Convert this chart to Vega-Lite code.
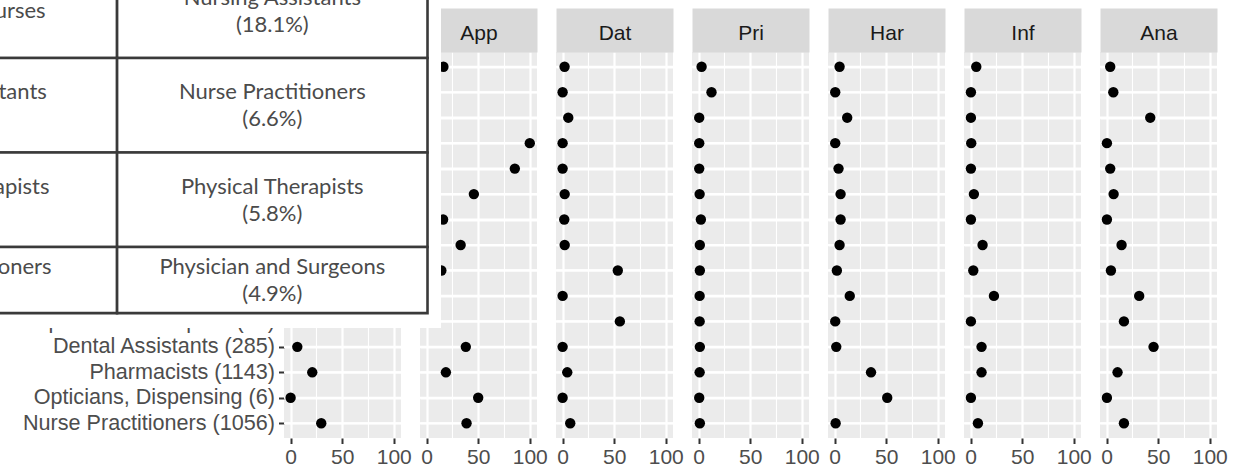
{
  "$schema": "https://vega.github.io/schema/vega-lite/v6.json",
  "background": "white",
  "padding": {"left": -150, "top": -150, "right": 5, "bottom": 2},
  "config": {
    "view": {"fill": "#EBEBEB", "stroke": null},
    "font": "Liberation Sans",
    "axis": {"domain": false, "gridColor": "#FFFFFF", "tickColor": "#333333", "tickWidth": 2, "tickSize": 5.5, "labelFont": "Liberation Sans", "labelFontSize": 21, "labelColor": "#4D4D4D", "labelLimit": 600,
             "titleFont": "Liberation Sans", "titleFontSize": 21, "titleFontWeight": "normal", "titleColor": "#1A1A1A"},
    "axisTop": {"titleBaseline": "alphabetic", "titleY": 9.5, "titlePadding": 0},
    "axisLeft": {"labelFontSize": 21.6}
  },
  "data": {"values": [
    {"kind":"dot","panel":"Adm","occupation":"Registered Nurses (2957)","pct":10},
    {"kind":"dot","panel":"Adm","occupation":"Nursing Assistants (1890)","pct":25},
    {"kind":"dot","panel":"Adm","occupation":"Physical Therapists (842)","pct":5},
    {"kind":"dot","panel":"Adm","occupation":"Physicians (731)","pct":60},
    {"kind":"dot","panel":"Adm","occupation":"Medical Assistants (655)","pct":15},
    {"kind":"dot","panel":"Adm","occupation":"Physician Assistants (410)","pct":8},
    {"kind":"dot","panel":"Adm","occupation":"Dental Hygienists (298)","pct":3},
    {"kind":"dot","panel":"Adm","occupation":"Respiratory Therapists (174)","pct":40},
    {"kind":"dot","panel":"Adm","occupation":"Home Health Aides (520)","pct":12},
    {"kind":"dot","panel":"Adm","occupation":"Massage Therapists (112)","pct":20},
    {"kind":"dot","panel":"Adm","occupation":"Occupational Therapists (15)","pct":2},
    {"kind":"dot","panel":"Adm","occupation":"Dental Assistants (285)","pct":6.5},
    {"kind":"dot","panel":"Adm","occupation":"Pharmacists (1143)","pct":21},
    {"kind":"dot","panel":"Adm","occupation":"Opticians, Dispensing (6)","pct":0},
    {"kind":"dot","panel":"Adm","occupation":"Nurse Practitioners (1056)","pct":29.7},

    {"kind":"dot","panel":"App","occupation":"Registered Nurses (2957)","pct":16.3},
    {"kind":"dot","panel":"App","occupation":"Nursing Assistants (1890)","pct":5},
    {"kind":"dot","panel":"App","occupation":"Physical Therapists (842)","pct":8},
    {"kind":"dot","panel":"App","occupation":"Physicians (731)","pct":100},
    {"kind":"dot","panel":"App","occupation":"Medical Assistants (655)","pct":85.5},
    {"kind":"dot","panel":"App","occupation":"Physician Assistants (410)","pct":45.8},
    {"kind":"dot","panel":"App","occupation":"Dental Hygienists (298)","pct":16},
    {"kind":"dot","panel":"App","occupation":"Respiratory Therapists (174)","pct":33},
    {"kind":"dot","panel":"App","occupation":"Home Health Aides (520)","pct":14.3},
    {"kind":"dot","panel":"App","occupation":"Massage Therapists (112)","pct":3},
    {"kind":"dot","panel":"App","occupation":"Occupational Therapists (15)","pct":6},
    {"kind":"dot","panel":"App","occupation":"Dental Assistants (285)","pct":38},
    {"kind":"dot","panel":"App","occupation":"Pharmacists (1143)","pct":18.7},
    {"kind":"dot","panel":"App","occupation":"Opticians, Dispensing (6)","pct":50},
    {"kind":"dot","panel":"App","occupation":"Nurse Practitioners (1056)","pct":38.7},

    {"kind":"dot","panel":"Dat","occupation":"Registered Nurses (2957)","pct":1.9},
    {"kind":"dot","panel":"Dat","occupation":"Nursing Assistants (1890)","pct":0},
    {"kind":"dot","panel":"Dat","occupation":"Physical Therapists (842)","pct":5.5},
    {"kind":"dot","panel":"Dat","occupation":"Physicians (731)","pct":0},
    {"kind":"dot","panel":"Dat","occupation":"Medical Assistants (655)","pct":0},
    {"kind":"dot","panel":"Dat","occupation":"Physician Assistants (410)","pct":2},
    {"kind":"dot","panel":"Dat","occupation":"Dental Hygienists (298)","pct":1.6},
    {"kind":"dot","panel":"Dat","occupation":"Respiratory Therapists (174)","pct":2},
    {"kind":"dot","panel":"Dat","occupation":"Home Health Aides (520)","pct":53.5},
    {"kind":"dot","panel":"Dat","occupation":"Massage Therapists (112)","pct":0},
    {"kind":"dot","panel":"Dat","occupation":"Occupational Therapists (15)","pct":55.5},
    {"kind":"dot","panel":"Dat","occupation":"Dental Assistants (285)","pct":0},
    {"kind":"dot","panel":"Dat","occupation":"Pharmacists (1143)","pct":4.5},
    {"kind":"dot","panel":"Dat","occupation":"Opticians, Dispensing (6)","pct":0},
    {"kind":"dot","panel":"Dat","occupation":"Nurse Practitioners (1056)","pct":7.4},

    {"kind":"dot","panel":"Pri","occupation":"Registered Nurses (2957)","pct":2.9},
    {"kind":"dot","panel":"Pri","occupation":"Nursing Assistants (1890)","pct":12.5},
    {"kind":"dot","panel":"Pri","occupation":"Physical Therapists (842)","pct":0.6},
    {"kind":"dot","panel":"Pri","occupation":"Physicians (731)","pct":0.6},
    {"kind":"dot","panel":"Pri","occupation":"Medical Assistants (655)","pct":0.6},
    {"kind":"dot","panel":"Pri","occupation":"Physician Assistants (410)","pct":1},
    {"kind":"dot","panel":"Pri","occupation":"Dental Hygienists (298)","pct":2.2},
    {"kind":"dot","panel":"Pri","occupation":"Respiratory Therapists (174)","pct":1.2},
    {"kind":"dot","panel":"Pri","occupation":"Home Health Aides (520)","pct":1.2},
    {"kind":"dot","panel":"Pri","occupation":"Massage Therapists (112)","pct":1},
    {"kind":"dot","panel":"Pri","occupation":"Occupational Therapists (15)","pct":1},
    {"kind":"dot","panel":"Pri","occupation":"Dental Assistants (285)","pct":1.2},
    {"kind":"dot","panel":"Pri","occupation":"Pharmacists (1143)","pct":1},
    {"kind":"dot","panel":"Pri","occupation":"Opticians, Dispensing (6)","pct":0.6},
    {"kind":"dot","panel":"Pri","occupation":"Nurse Practitioners (1056)","pct":1.2},

    {"kind":"dot","panel":"Har","occupation":"Registered Nurses (2957)","pct":4.8},
    {"kind":"dot","panel":"Har","occupation":"Nursing Assistants (1890)","pct":0.6},
    {"kind":"dot","panel":"Har","occupation":"Physical Therapists (842)","pct":12.2},
    {"kind":"dot","panel":"Har","occupation":"Physicians (731)","pct":0.6},
    {"kind":"dot","panel":"Har","occupation":"Medical Assistants (655)","pct":3.8},
    {"kind":"dot","panel":"Har","occupation":"Physician Assistants (410)","pct":5.8},
    {"kind":"dot","panel":"Har","occupation":"Dental Hygienists (298)","pct":5.8},
    {"kind":"dot","panel":"Har","occupation":"Respiratory Therapists (174)","pct":4.8},
    {"kind":"dot","panel":"Har","occupation":"Home Health Aides (520)","pct":2.2},
    {"kind":"dot","panel":"Har","occupation":"Massage Therapists (112)","pct":14.7},
    {"kind":"dot","panel":"Har","occupation":"Occupational Therapists (15)","pct":0.6},
    {"kind":"dot","panel":"Har","occupation":"Dental Assistants (285)","pct":1.6},
    {"kind":"dot","panel":"Har","occupation":"Pharmacists (1143)","pct":35.3},
    {"kind":"dot","panel":"Har","occupation":"Opticians, Dispensing (6)","pct":51},
    {"kind":"dot","panel":"Har","occupation":"Nurse Practitioners (1056)","pct":1},

    {"kind":"dot","panel":"Inf","occupation":"Registered Nurses (2957)","pct":5.5},
    {"kind":"dot","panel":"Inf","occupation":"Nursing Assistants (1890)","pct":0.3},
    {"kind":"dot","panel":"Inf","occupation":"Physical Therapists (842)","pct":0.3},
    {"kind":"dot","panel":"Inf","occupation":"Physicians (731)","pct":0.6},
    {"kind":"dot","panel":"Inf","occupation":"Medical Assistants (655)","pct":0.3},
    {"kind":"dot","panel":"Inf","occupation":"Physician Assistants (410)","pct":3.2},
    {"kind":"dot","panel":"Inf","occupation":"Dental Hygienists (298)","pct":0.3},
    {"kind":"dot","panel":"Inf","occupation":"Respiratory Therapists (174)","pct":11.6},
    {"kind":"dot","panel":"Inf","occupation":"Home Health Aides (520)","pct":2.6},
    {"kind":"dot","panel":"Inf","occupation":"Massage Therapists (112)","pct":22.6},
    {"kind":"dot","panel":"Inf","occupation":"Occupational Therapists (15)","pct":0.3},
    {"kind":"dot","panel":"Inf","occupation":"Dental Assistants (285)","pct":10.6},
    {"kind":"dot","panel":"Inf","occupation":"Pharmacists (1143)","pct":10.6},
    {"kind":"dot","panel":"Inf","occupation":"Opticians, Dispensing (6)","pct":0.3},
    {"kind":"dot","panel":"Inf","occupation":"Nurse Practitioners (1056)","pct":7.1},

    {"kind":"dot","panel":"Ana","occupation":"Registered Nurses (2957)","pct":3.5},
    {"kind":"dot","panel":"Ana","occupation":"Nursing Assistants (1890)","pct":6.5},
    {"kind":"dot","panel":"Ana","occupation":"Physical Therapists (842)","pct":42.3},
    {"kind":"dot","panel":"Ana","occupation":"Physicians (731)","pct":0.3},
    {"kind":"dot","panel":"Ana","occupation":"Medical Assistants (655)","pct":3.5},
    {"kind":"dot","panel":"Ana","occupation":"Physician Assistants (410)","pct":6.8},
    {"kind":"dot","panel":"Ana","occupation":"Dental Hygienists (298)","pct":0.3},
    {"kind":"dot","panel":"Ana","occupation":"Respiratory Therapists (174)","pct":14.5},
    {"kind":"dot","panel":"Ana","occupation":"Home Health Aides (520)","pct":4.2},
    {"kind":"dot","panel":"Ana","occupation":"Massage Therapists (112)","pct":31.6},
    {"kind":"dot","panel":"Ana","occupation":"Occupational Therapists (15)","pct":16.8},
    {"kind":"dot","panel":"Ana","occupation":"Dental Assistants (285)","pct":45.5},
    {"kind":"dot","panel":"Ana","occupation":"Pharmacists (1143)","pct":10.6},
    {"kind":"dot","panel":"Ana","occupation":"Opticians, Dispensing (6)","pct":0.3},
    {"kind":"dot","panel":"Ana","occupation":"Nurse Practitioners (1056)","pct":16.8},

    {"kind":"box","panel":"App","x0":-0.86,"x1":1.0435,"y0":-2.2,"y1":2.857},
    {"kind":"cell","panel":"App","x0":-0.8,"x1":0,"y0":-1,"y1":0},
    {"kind":"cell","panel":"App","x0":0,"x1":1,"y0":-1,"y1":0},
    {"kind":"cell","panel":"App","x0":-0.8,"x1":0,"y0":0,"y1":1},
    {"kind":"cell","panel":"App","x0":0,"x1":1,"y0":0,"y1":1},
    {"kind":"cell","panel":"App","x0":-0.8,"x1":0,"y0":1,"y1":2},
    {"kind":"cell","panel":"App","x0":0,"x1":1,"y0":1,"y1":2},
    {"kind":"cell","panel":"App","x0":-0.8,"x1":0,"y0":2,"y1":2.7},
    {"kind":"cell","panel":"App","x0":0,"x1":1,"y0":2,"y1":2.7},
    {"kind":"text","panel":"App","tx":-0.512,"ty":-0.5,"label":"Registered Nurses"},
    {"kind":"text","panel":"App","tx":0.5,"ty":-0.635,"label":"Nursing Assistants\n(18.1%)"},
    {"kind":"text","panel":"App","tx":-0.512,"ty":0.365,"label":"Nursing Assistants"},
    {"kind":"text","panel":"App","tx":0.5,"ty":0.365,"label":"Nurse Practitioners\n(6.6%)"},
    {"kind":"text","panel":"App","tx":-0.512,"ty":1.365,"label":"Physical Therapists"},
    {"kind":"text","panel":"App","tx":0.5,"ty":1.365,"label":"Physical Therapists\n(5.8%)"},
    {"kind":"text","panel":"App","tx":-0.512,"ty":2.215,"label":"Nurse Practitioners"},
    {"kind":"text","panel":"App","tx":0.5,"ty":2.215,"label":"Physician and Surgeons\n(4.9%)"}
  ]},
  "spacing": 19,
  "bounds": "flush",
  "hconcat": [
    {
      "width": 117, "height": 386,
      "transform": [{"filter": "datum.panel === 'Adm'"}],
      "layer": [
        {"transform": [{"filter": "datum.kind === 'dot'"}],
         "mark": {"type": "rule", "color": "#FFFFFF", "strokeWidth": 2.2},
         "encoding": {"y": {"field": "occupation", "type": "nominal", "sort": null, "scale": {"type": "point", "padding": 0.58}, "axis": null}}},
        {"transform": [{"filter": "datum.kind === 'dot'"}],
         "mark": {"type": "point", "filled": true, "color": "#000000", "size": 108, "opacity": 1},
         "encoding": {
           "x": {"field": "pct", "type": "quantitative", "scale": {"domain": [-6.4, 107], "nice": false, "zero": false},
                 "axis": {"values": [0, 50, 100], "title": null, "grid": true, "gridWidth": 2.2, "labelPadding": 3}},
           "y": {"field": "occupation", "type": "nominal", "sort": null, "scale": {"type": "point", "padding": 0.58},
                 "axis": {"title": null, "grid": true, "gridWidth": 2.2, "labelPadding": 4}}}},
        {"transform": [{"filter": "datum.kind === 'dot'"}],
         "mark": {"type": "point", "opacity": 0},
         "encoding": {"x": {"field": "pct", "type": "quantitative", "scale": {"domain": [-6.4, 107], "nice": false, "zero": false},
                 "axis": {"orient": "top", "values": [25, 75], "title": "Adm", "labels": false, "ticks": false, "grid": true, "gridWidth": 1.1, "domain": true, "domainColor": "#D9D9D9", "domainWidth": 44, "domainCap": "butt", "offset": 22}}}}
      ],
      "resolve": {"scale": {"x": "independent", "y": "independent"}, "axis": {"x": "independent", "y": "independent"}}
    },
    {
      "width": 117, "height": 386,
      "transform": [{"filter": "datum.panel === 'App'"}],
      "layer": [
        {"transform": [{"filter": "datum.kind === 'dot'"}],
         "mark": {"type": "rule", "color": "#FFFFFF", "strokeWidth": 2.2},
         "encoding": {"y": {"field": "occupation", "type": "nominal", "sort": null, "scale": {"type": "point", "padding": 0.58}, "axis": null}}},
        {"transform": [{"filter": "datum.kind === 'dot'"}],
         "mark": {"type": "point", "filled": true, "color": "#000000", "size": 108, "opacity": 1},
         "encoding": {
           "x": {"field": "pct", "type": "quantitative", "scale": {"domain": [-6.4, 107], "nice": false, "zero": false},
                 "axis": {"values": [0, 50, 100], "title": null, "grid": true, "gridWidth": 2.2, "labelPadding": 3}},
           "y": {"field": "occupation", "type": "nominal", "sort": null, "scale": {"type": "point", "padding": 0.58},
                 "axis": {"title": null, "grid": true, "gridWidth": 2.2, "labels": false, "ticks": false}}}},
        {"transform": [{"filter": "datum.kind === 'dot'"}],
         "mark": {"type": "point", "opacity": 0},
         "encoding": {"x": {"field": "pct", "type": "quantitative", "scale": {"domain": [-6.4, 107], "nice": false, "zero": false},
                 "axis": {"orient": "top", "values": [25, 75], "title": "App", "labels": false, "ticks": false, "grid": true, "gridWidth": 1.1, "domain": true, "domainColor": "#D9D9D9", "domainWidth": 44, "domainCap": "butt", "offset": 22}}}},
        {"transform": [{"filter": "datum.kind === 'box'"}],
         "mark": {"type": "rect", "fill": "#FFFFFF", "stroke": null, "clip": false},
         "encoding": {
           "x": {"field": "x0", "type": "quantitative", "scale": {"domain": [0.9758, 1.3527], "nice": false, "zero": false}, "axis": null},
           "x2": {"field": "x1"},
           "y": {"field": "y0", "type": "quantitative", "scale": {"domain": [-0.0635, 4.021], "nice": false, "zero": false, "reverse": true}, "axis": null},
           "y2": {"field": "y1"}}},
        {"transform": [{"filter": "datum.kind === 'cell'"}],
         "mark": {"type": "rect", "fill": "#FFFFFF", "stroke": "#3A3A3A", "strokeWidth": 2.6, "clip": false},
         "encoding": {
           "x": {"field": "x0", "type": "quantitative", "scale": {"domain": [0.9758, 1.3527], "nice": false, "zero": false}, "axis": null},
           "x2": {"field": "x1"},
           "y": {"field": "y0", "type": "quantitative", "scale": {"domain": [-0.0635, 4.021], "nice": false, "zero": false, "reverse": true}, "axis": null},
           "y2": {"field": "y1"}}},
        {"transform": [{"filter": "datum.kind === 'text'"}],
         "mark": {"type": "text", "font": "Lato", "fontSize": 22, "color": "#4B4B4B", "lineBreak": "\n", "lineHeight": 27, "align": "center", "baseline": "middle", "clip": false},
         "encoding": {
           "x": {"field": "tx", "type": "quantitative", "scale": {"domain": [0.9758, 1.3527], "nice": false, "zero": false}, "axis": null},
           "y": {"field": "ty", "type": "quantitative", "scale": {"domain": [-0.0635, 4.021], "nice": false, "zero": false, "reverse": true}, "axis": null},
           "text": {"field": "label", "type": "nominal"}}}
      ],
      "resolve": {"scale": {"x": "independent", "y": "independent"}, "axis": {"x": "independent", "y": "independent"}}
    },
    {
      "width": 117, "height": 386,
      "transform": [{"filter": "datum.panel === 'Dat'"}],
      "layer": [
        {"transform": [{"filter": "datum.kind === 'dot'"}],
         "mark": {"type": "rule", "color": "#FFFFFF", "strokeWidth": 2.2},
         "encoding": {"y": {"field": "occupation", "type": "nominal", "sort": null, "scale": {"type": "point", "padding": 0.58}, "axis": null}}},
        {"transform": [{"filter": "datum.kind === 'dot'"}],
         "mark": {"type": "point", "filled": true, "color": "#000000", "size": 108, "opacity": 1},
         "encoding": {
           "x": {"field": "pct", "type": "quantitative", "scale": {"domain": [-6.4, 107], "nice": false, "zero": false},
                 "axis": {"values": [0, 50, 100], "title": null, "grid": true, "gridWidth": 2.2, "labelPadding": 3}},
           "y": {"field": "occupation", "type": "nominal", "sort": null, "scale": {"type": "point", "padding": 0.58},
                 "axis": {"title": null, "grid": true, "gridWidth": 2.2, "labels": false, "ticks": false}}}},
        {"transform": [{"filter": "datum.kind === 'dot'"}],
         "mark": {"type": "point", "opacity": 0},
         "encoding": {"x": {"field": "pct", "type": "quantitative", "scale": {"domain": [-6.4, 107], "nice": false, "zero": false},
                 "axis": {"orient": "top", "values": [25, 75], "title": "Dat", "labels": false, "ticks": false, "grid": true, "gridWidth": 1.1, "domain": true, "domainColor": "#D9D9D9", "domainWidth": 44, "domainCap": "butt", "offset": 22}}}}
      ],
      "resolve": {"scale": {"x": "independent", "y": "independent"}, "axis": {"x": "independent", "y": "independent"}}
    },
    {
      "width": 117, "height": 386,
      "transform": [{"filter": "datum.panel === 'Pri'"}],
      "layer": [
        {"transform": [{"filter": "datum.kind === 'dot'"}],
         "mark": {"type": "rule", "color": "#FFFFFF", "strokeWidth": 2.2},
         "encoding": {"y": {"field": "occupation", "type": "nominal", "sort": null, "scale": {"type": "point", "padding": 0.58}, "axis": null}}},
        {"transform": [{"filter": "datum.kind === 'dot'"}],
         "mark": {"type": "point", "filled": true, "color": "#000000", "size": 108, "opacity": 1},
         "encoding": {
           "x": {"field": "pct", "type": "quantitative", "scale": {"domain": [-6.4, 107], "nice": false, "zero": false},
                 "axis": {"values": [0, 50, 100], "title": null, "grid": true, "gridWidth": 2.2, "labelPadding": 3}},
           "y": {"field": "occupation", "type": "nominal", "sort": null, "scale": {"type": "point", "padding": 0.58},
                 "axis": {"title": null, "grid": true, "gridWidth": 2.2, "labels": false, "ticks": false}}}},
        {"transform": [{"filter": "datum.kind === 'dot'"}],
         "mark": {"type": "point", "opacity": 0},
         "encoding": {"x": {"field": "pct", "type": "quantitative", "scale": {"domain": [-6.4, 107], "nice": false, "zero": false},
                 "axis": {"orient": "top", "values": [25, 75], "title": "Pri", "labels": false, "ticks": false, "grid": true, "gridWidth": 1.1, "domain": true, "domainColor": "#D9D9D9", "domainWidth": 44, "domainCap": "butt", "offset": 22}}}}
      ],
      "resolve": {"scale": {"x": "independent", "y": "independent"}, "axis": {"x": "independent", "y": "independent"}}
    },
    {
      "width": 117, "height": 386,
      "transform": [{"filter": "datum.panel === 'Har'"}],
      "layer": [
        {"transform": [{"filter": "datum.kind === 'dot'"}],
         "mark": {"type": "rule", "color": "#FFFFFF", "strokeWidth": 2.2},
         "encoding": {"y": {"field": "occupation", "type": "nominal", "sort": null, "scale": {"type": "point", "padding": 0.58}, "axis": null}}},
        {"transform": [{"filter": "datum.kind === 'dot'"}],
         "mark": {"type": "point", "filled": true, "color": "#000000", "size": 108, "opacity": 1},
         "encoding": {
           "x": {"field": "pct", "type": "quantitative", "scale": {"domain": [-6.4, 107], "nice": false, "zero": false},
                 "axis": {"values": [0, 50, 100], "title": null, "grid": true, "gridWidth": 2.2, "labelPadding": 3}},
           "y": {"field": "occupation", "type": "nominal", "sort": null, "scale": {"type": "point", "padding": 0.58},
                 "axis": {"title": null, "grid": true, "gridWidth": 2.2, "labels": false, "ticks": false}}}},
        {"transform": [{"filter": "datum.kind === 'dot'"}],
         "mark": {"type": "point", "opacity": 0},
         "encoding": {"x": {"field": "pct", "type": "quantitative", "scale": {"domain": [-6.4, 107], "nice": false, "zero": false},
                 "axis": {"orient": "top", "values": [25, 75], "title": "Har", "labels": false, "ticks": false, "grid": true, "gridWidth": 1.1, "domain": true, "domainColor": "#D9D9D9", "domainWidth": 44, "domainCap": "butt", "offset": 22}}}}
      ],
      "resolve": {"scale": {"x": "independent", "y": "independent"}, "axis": {"x": "independent", "y": "independent"}}
    },
    {
      "width": 117, "height": 386,
      "transform": [{"filter": "datum.panel === 'Inf'"}],
      "layer": [
        {"transform": [{"filter": "datum.kind === 'dot'"}],
         "mark": {"type": "rule", "color": "#FFFFFF", "strokeWidth": 2.2},
         "encoding": {"y": {"field": "occupation", "type": "nominal", "sort": null, "scale": {"type": "point", "padding": 0.58}, "axis": null}}},
        {"transform": [{"filter": "datum.kind === 'dot'"}],
         "mark": {"type": "point", "filled": true, "color": "#000000", "size": 108, "opacity": 1},
         "encoding": {
           "x": {"field": "pct", "type": "quantitative", "scale": {"domain": [-6.4, 107], "nice": false, "zero": false},
                 "axis": {"values": [0, 50, 100], "title": null, "grid": true, "gridWidth": 2.2, "labelPadding": 3}},
           "y": {"field": "occupation", "type": "nominal", "sort": null, "scale": {"type": "point", "padding": 0.58},
                 "axis": {"title": null, "grid": true, "gridWidth": 2.2, "labels": false, "ticks": false}}}},
        {"transform": [{"filter": "datum.kind === 'dot'"}],
         "mark": {"type": "point", "opacity": 0},
         "encoding": {"x": {"field": "pct", "type": "quantitative", "scale": {"domain": [-6.4, 107], "nice": false, "zero": false},
                 "axis": {"orient": "top", "values": [25, 75], "title": "Inf", "labels": false, "ticks": false, "grid": true, "gridWidth": 1.1, "domain": true, "domainColor": "#D9D9D9", "domainWidth": 44, "domainCap": "butt", "offset": 22}}}}
      ],
      "resolve": {"scale": {"x": "independent", "y": "independent"}, "axis": {"x": "independent", "y": "independent"}}
    },
    {
      "width": 117, "height": 386,
      "transform": [{"filter": "datum.panel === 'Ana'"}],
      "layer": [
        {"transform": [{"filter": "datum.kind === 'dot'"}],
         "mark": {"type": "rule", "color": "#FFFFFF", "strokeWidth": 2.2},
         "encoding": {"y": {"field": "occupation", "type": "nominal", "sort": null, "scale": {"type": "point", "padding": 0.58}, "axis": null}}},
        {"transform": [{"filter": "datum.kind === 'dot'"}],
         "mark": {"type": "point", "filled": true, "color": "#000000", "size": 108, "opacity": 1},
         "encoding": {
           "x": {"field": "pct", "type": "quantitative", "scale": {"domain": [-6.4, 107], "nice": false, "zero": false},
                 "axis": {"values": [0, 50, 100], "title": null, "grid": true, "gridWidth": 2.2, "labelPadding": 3}},
           "y": {"field": "occupation", "type": "nominal", "sort": null, "scale": {"type": "point", "padding": 0.58},
                 "axis": {"title": null, "grid": true, "gridWidth": 2.2, "labels": false, "ticks": false}}}},
        {"transform": [{"filter": "datum.kind === 'dot'"}],
         "mark": {"type": "point", "opacity": 0},
         "encoding": {"x": {"field": "pct", "type": "quantitative", "scale": {"domain": [-6.4, 107], "nice": false, "zero": false},
                 "axis": {"orient": "top", "values": [25, 75], "title": "Ana", "labels": false, "ticks": false, "grid": true, "gridWidth": 1.1, "domain": true, "domainColor": "#D9D9D9", "domainWidth": 44, "domainCap": "butt", "offset": 22}}}}
      ],
      "resolve": {"scale": {"x": "independent", "y": "independent"}, "axis": {"x": "independent", "y": "independent"}}
    }
  ]
}
